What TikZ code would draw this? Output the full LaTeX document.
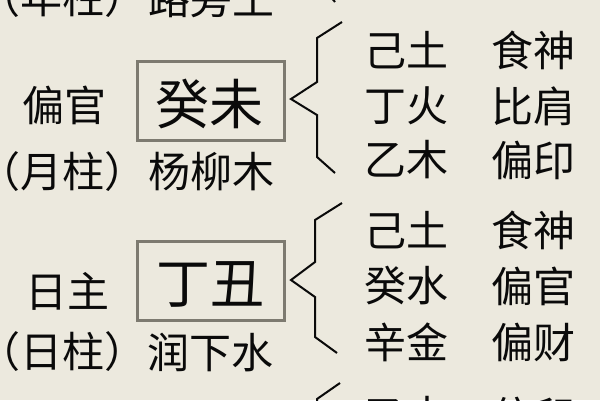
\documentclass[tikz,border=0pt]{standalone}
\usepackage{fontspec}
\setmainfont{Noto Sans CJK SC}
\definecolor{bgc}{RGB}{236,233,222}
\definecolor{ink}{RGB}{10,10,10}
\definecolor{boxc}{RGB}{125,122,112}
\begin{document}
\begin{tikzpicture}[x=1pt,y=-1pt,
  txt/.style={inner sep=0pt,text=ink,font=\fontsize{42}{48}\selectfont,anchor=center},
  big/.style={inner sep=0pt,text=ink,font=\fontsize{54}{60}\selectfont,anchor=center},
  pillarbox/.style={draw=boxc,line width=3pt,minimum width=147pt,minimum height=79pt,inner sep=0pt},
  bracket/.style={draw=ink,line width=2pt,line join=miter}]
\fill[bgc] (0,0) rectangle (600,400);
\useasboundingbox (0,0) rectangle (600,400);
\clip (0,0) rectangle (600,400);
% left labels
\node[txt] (nianzhu) at (63,-2) {（年柱）};
\node[txt] (nianna) at (211,-2) {路旁土};
\node[txt] (pg) at (64,105) {偏官};
\node[txt] (yuezhu) at (63,172) {（月柱）};
\node[txt] (yuena) at (211,172) {杨柳木};
\node[txt] (rz) at (67,291) {日主};
\node[txt] (rizhu) at (63,352) {（日柱）};
\node[txt] (rina) at (210,352) {润下水};
% boxes
\node[pillarbox] (box1) at (211,101) {};
\node[big] (gz1) at (209,104) {癸未};
\node[pillarbox] (box2) at (211,281) {};
\node[big] (gz2) at (210,284) {丁丑};
% hidden stems group 1
\node[txt] (a1) at (406,50) {己土};
\node[txt] (a2) at (406,106) {丁火};
\node[txt] (a3) at (406,160) {乙木};
\node[txt] (b1) at (533,50) {食神};
\node[txt] (b2) at (533,106) {比肩};
\node[txt] (b3) at (533,160) {偏印};
% group 2
\node[txt] (c1) at (406,230) {己土};
\node[txt] (c2) at (406,286) {癸水};
\node[txt] (c3) at (406,342) {辛金};
\node[txt] (d1) at (533,230) {食神};
\node[txt] (d2) at (533,286) {偏官};
\node[txt] (d3) at (533,342) {偏财};
% group 3 (cut off)
\node[txt] (e1) at (406,416) {乙木};
\node[txt] (f1) at (533,416) {偏印};
% brackets
\coordinate (t1) at (291,99);
\coordinate (t2) at (291,280);
\draw[bracket] (317,-63) -- (317,-20) -- (335,2);
\draw[bracket] (342,22) -- (317,38) -- (317,82) -- (t1) -- (317,115) -- (317,157) -- (335,173);
\draw[bracket] (342,203) -- (315,220) -- (315,262) -- (t2) -- (315,297) -- (315,337) -- (337,353);
\draw[bracket] (340,383) -- (317,399) -- (317,440);
\end{tikzpicture}
\end{document}
